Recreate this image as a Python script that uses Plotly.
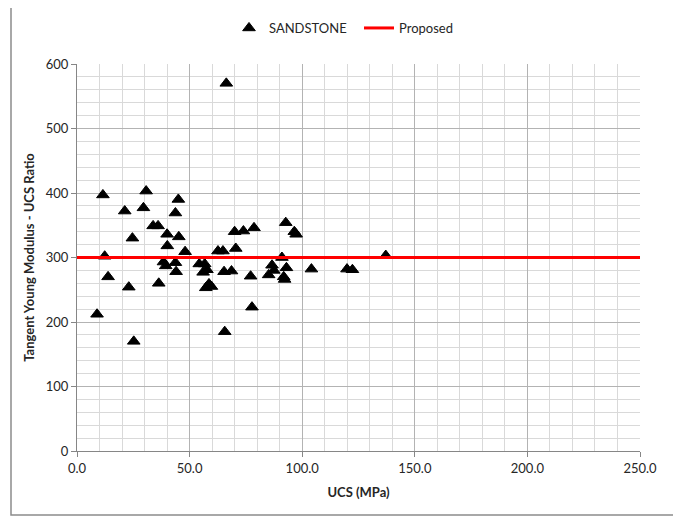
import plotly.graph_objects as go

ucs = [8.9, 11.5, 12.3, 13.8, 21.2, 23.0, 24.6, 25.2, 29.5, 30.7,
       33.8, 36.0, 36.3, 38.4, 39.4, 40.0, 40.1, 43.7, 44.0, 43.7,
       45.0, 45.2, 48.0, 54.3, 56.7, 57.7, 56.0, 57.2, 58.6, 59.7,
       62.6, 64.8, 66.3, 65.6, 65.3, 68.6, 70.0, 70.5, 73.9, 77.1,
       77.7, 78.6, 85.1, 86.6, 87.4, 91.0, 91.8, 92.2, 92.7, 93.0,
       96.5, 97.3, 104.1, 119.9, 122.3, 137.1]
ratio = [212, 397, 302, 270, 372, 254, 330, 170, 377, 403,
         349, 349, 260, 293, 287, 336, 318, 292, 278, 369,
         390, 332, 309, 290, 290, 281, 277, 253, 259, 255,
         310, 310, 570, 185, 278, 279, 340, 314, 341, 271,
         223, 346, 273, 288, 280, 300, 270, 266, 354, 284,
         340, 336, 282, 282, 281, 303]

proposed_x = [0, 250]
proposed_y = [300, 300]

x_ticks = [0, 50, 100, 150, 200, 250]
y_ticks = [0, 100, 200, 300, 400, 500, 600]

FONT = "Lato"

# page body has an 8px default margin; figure is sized to fit the 681x516 window
W, H = 673, 508
L, T = 69, 56
PW, PH = 563, 387

fig = go.Figure()
fig.add_trace(go.Scatter(
    x=ucs, y=ratio, mode="markers", name="SANDSTONE",
    marker=dict(symbol="triangle-up", size=11, color="black",
                line=dict(color="black", width=1)),
))
fig.add_trace(go.Scatter(
    x=proposed_x, y=proposed_y, mode="lines", name="Proposed",
    line=dict(color="#ff0000", width=3),
))

grid_minor = "#d9d9d9"
grid_major = "#b3b3b3"

fig.update_layout(
    width=W, height=H,
    margin=dict(l=L, r=W - L - PW, t=T, b=H - T - PH, autoexpand=False),
    paper_bgcolor="white", plot_bgcolor="white",
    font=dict(family=FONT, size=13, color="#262626"),
    showlegend=True,
    legend=dict(orientation="h", x=(221 - L) / PW, xanchor="left",
                y=(PH + T - 20) / PH, yanchor="middle",
                font=dict(family=FONT, size=13, color="#262626"),
                bgcolor="rgba(0,0,0,0)", itemwidth=30,
                entrywidth=85, entrywidthmode="pixels"),
    xaxis=dict(
        range=[0, 250], tickvals=x_ticks, tickformat=".1f",
        showgrid=True, gridcolor=grid_major, gridwidth=1,
        minor=dict(dtick=10, showgrid=True, gridcolor=grid_minor, gridwidth=1),
        showline=True, linecolor="#868686", linewidth=1,
        ticks="outside", ticklen=5, tickcolor="#868686",
        zeroline=False, automargin=False,
        title=dict(text="<b>UCS (MPa)</b>", font=dict(family=FONT, size=13, color="#262626"),
                   standoff=13),
    ),
    yaxis=dict(
        range=[0, 600], tickvals=y_ticks,
        showgrid=True, gridcolor=grid_major, gridwidth=1,
        minor=dict(dtick=20, showgrid=True, gridcolor=grid_minor, gridwidth=1),
        showline=True, linecolor="#868686", linewidth=1,
        ticks="outside", ticklen=5, tickcolor="#868686",
        zeroline=False, automargin=False,
        title=dict(text="<b>Tangent Young Modulus - UCS Ratio</b>",
                   font=dict(family=FONT, size=13, color="#262626"), standoff=8),
    ),
    shapes=[dict(type="rect", xref="paper", yref="paper",
                 x0=(3 - L) / PW, x1=(667 - L) / PW,
                 y0=(PH + T - 507) / PH, y1=(PH + T - (-2)) / PH,
                 line=dict(color="#8c8c8c", width=1.5), layer="below")],
)

fig.write_html("out.html")
